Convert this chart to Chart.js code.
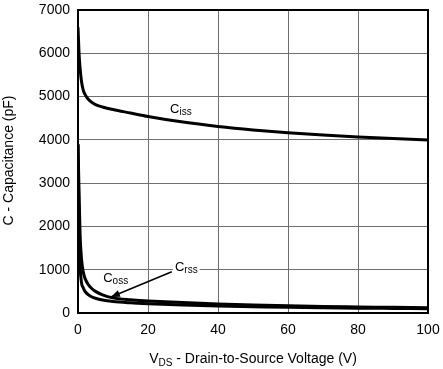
<!DOCTYPE html>
<html>
<head>
<meta charset="utf-8">
<script src="https://cdn.jsdelivr.net/npm/chart.js@4/dist/chart.umd.min.js"></script>
<style>
html,body{margin:0;padding:0;background:#fff;}
#wrap{width:443px;height:369px;}
</style>
</head>
<body>
<div id="wrap"><canvas id="c" width="443" height="369"></canvas></div>
<script>
// Drain-to-source voltage (V)
const vds  = [0, 0.3, 0.6, 1, 1.5, 2, 3, 4, 5, 7, 10, 15, 20, 30, 40, 50, 60, 70, 80, 90, 100];
// Capacitances (pF)
const ciss = [6600, 6000, 5650, 5350, 5150, 5050, 4930, 4865, 4815, 4760, 4700, 4620, 4540, 4410, 4310, 4230, 4165, 4110, 4065, 4030, 3995];
const coss = [3900, 2800, 1800, 1250, 950, 800, 650, 560, 500, 420, 350, 305, 280, 240, 210, 185, 165, 150, 140, 130, 120];
const crss = [3900, 2000, 1100, 700, 580, 500, 420, 370, 340, 300, 265, 235, 215, 185, 160, 145, 130, 120, 112, 106, 100];
const xTicks = [0, 20, 40, 60, 80, 100];
const yTicks = [0, 1000, 2000, 3000, 4000, 5000, 6000, 7000];
const xTitle = ["V", "DS", " - Drain-to-Source Voltage (V)"];
const yTitle = "C - Capacitance (pF)";
const labels = [
  {main: "C", sub: "iss", v: 26.3, c: 4630, box: false},
  {main: "C", sub: "oss", v: 7.2, c: 723, box: false},
  {main: "C", sub: "rss", v: 27.7, c: 977, box: true}
];
const arrow = {from: [26.8, 954], to: [9.4, 370]};

const FONT = "'Liberation Sans', Arial, sans-serif";
const pts = arr => vds.map((v, i) => ({x: v, y: arr[i]}));
const ds = (label, arr) => ({
  label, data: pts(arr), borderColor: '#000', borderWidth: 3,
  pointRadius: 0, cubicInterpolationMode: 'monotone', fill: false
});

const decor = {
  id: 'decor',
  beforeDraw(chart) {
    const ctx = chart.ctx;
    ctx.save(); ctx.fillStyle = '#fff';
    ctx.fillRect(0, 0, chart.width, chart.height); ctx.restore();
  },
  beforeDatasetsDraw(chart) {
    const {ctx, chartArea: a} = chart;
    ctx.save();
    ctx.strokeStyle = '#000'; ctx.lineWidth = 2;
    ctx.strokeRect(a.left, a.top, a.right - a.left, a.bottom - a.top);
    ctx.restore();
  },
  afterDatasetsDraw(chart) {
    const {ctx, chartArea: a} = chart;
    const xs = chart.scales.x, ys = chart.scales.y;
    ctx.save();
    // arrow
    const x1 = xs.getPixelForValue(arrow.from[0]), y1 = ys.getPixelForValue(arrow.from[1]);
    const x2 = xs.getPixelForValue(arrow.to[0]), y2 = ys.getPixelForValue(arrow.to[1]);
    ctx.strokeStyle = '#000'; ctx.lineWidth = 1.5;
    ctx.beginPath(); ctx.moveTo(x1, y1); ctx.lineTo(x2, y2); ctx.stroke();
    const ang = Math.atan2(y2 - y1, x2 - x1);
    const L = 9, W = 3.5;
    ctx.fillStyle = '#000';
    ctx.beginPath();
    ctx.moveTo(x2, y2);
    ctx.lineTo(x2 - L * Math.cos(ang) + W * Math.sin(ang), y2 - L * Math.sin(ang) - W * Math.cos(ang));
    ctx.lineTo(x2 - L * Math.cos(ang) - W * Math.sin(ang), y2 - L * Math.sin(ang) + W * Math.cos(ang));
    ctx.closePath(); ctx.fill();
    // curve labels
    ctx.textBaseline = 'alphabetic'; ctx.textAlign = 'left';
    labels.forEach(l => {
      const px = xs.getPixelForValue(l.v), py = ys.getPixelForValue(l.c);
      ctx.font = '13px ' + FONT;
      const w1 = ctx.measureText(l.main).width;
      ctx.font = '10px ' + FONT;
      const w2 = ctx.measureText(l.sub).width;
      if (l.box) {
        ctx.fillStyle = '#fff';
        ctx.fillRect(px - 2, py - 11, w1 + w2 + 4, 15);
      }
      ctx.fillStyle = '#000';
      ctx.font = '13px ' + FONT;
      ctx.fillText(l.main, px, py);
      ctx.font = '10px ' + FONT;
      ctx.fillText(l.sub, px + w1, py + 2.5);
    });
    ctx.restore();
  },
  afterDraw(chart) {
    const {ctx, chartArea: a} = chart;
    ctx.save();
    ctx.fillStyle = '#000';
    ctx.textBaseline = 'alphabetic'; ctx.textAlign = 'left';
    // x title with subscript
    ctx.font = '14px ' + FONT;
    const w0 = ctx.measureText(xTitle[0]).width;
    const w2 = ctx.measureText(xTitle[2]).width;
    ctx.font = '10px ' + FONT;
    const w1 = ctx.measureText(xTitle[1]).width;
    let x = (a.left + a.right) / 2 - (w0 + w1 + w2) / 2;
    const by = 363;
    ctx.font = '14px ' + FONT; ctx.fillText(xTitle[0], x, by); x += w0;
    ctx.font = '10px ' + FONT; ctx.fillText(xTitle[1], x, by + 3); x += w1;
    ctx.font = '14px ' + FONT; ctx.fillText(xTitle[2], x, by);
    // y title
    ctx.translate(13, (a.top + a.bottom) / 2 - 1);
    ctx.rotate(-Math.PI / 2);
    ctx.textAlign = 'center';
    ctx.font = '14px ' + FONT;
    ctx.fillText(yTitle, 0, 0);
    ctx.restore();
  }
};

new Chart(document.getElementById('c'), {
  type: 'line',
  data: {datasets: [ds('Ciss', ciss), ds('Coss', coss), ds('Crss', crss)]},
  options: {
    responsive: false, animation: false, devicePixelRatio: 1,
    layout: {padding: {top: 10, right: 15, left: 0, bottom: 0}},
    plugins: {legend: {display: false}, tooltip: {enabled: false}},
    scales: {
      x: {
        type: 'linear', min: 0, max: 100,
        afterBuildTicks: s => { s.ticks = xTicks.map(v => ({value: v})); },
        afterFit: s => { s.height = 56; s.paddingLeft = 0; s.paddingRight = 0; },
        grid: {color: '#6f6f6f', lineWidth: 1, drawTicks: false},
        border: {display: false},
        ticks: {padding: 9, color: '#000', font: {family: FONT, size: 14}, maxRotation: 0,
                callback: v => String(v)}
      },
      y: {
        type: 'linear', min: 0, max: 7000,
        afterBuildTicks: s => { s.ticks = yTicks.map(v => ({value: v})); },
        afterFit: s => { s.width = 78; s.paddingTop = 0; s.paddingBottom = 0; },
        grid: {color: '#6f6f6f', lineWidth: 1, drawTicks: false},
        border: {display: false},
        ticks: {padding: 8, color: '#000', font: {family: FONT, size: 14},
                callback: v => String(v)}
      }
    }
  },
  plugins: [decor]
});
</script>
</body>
</html>
